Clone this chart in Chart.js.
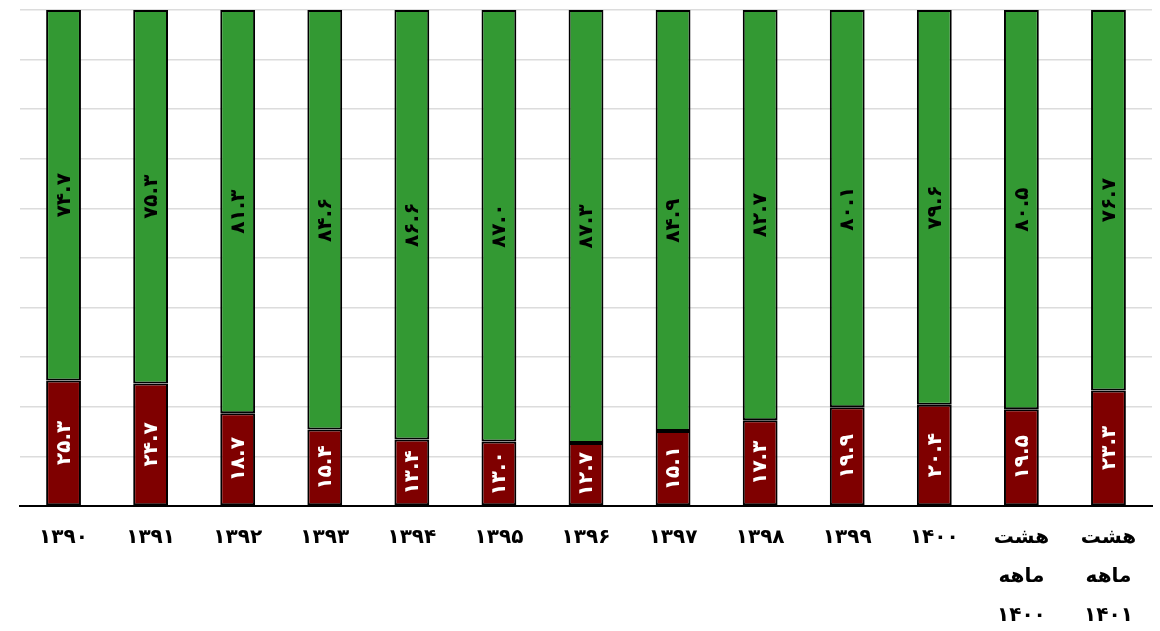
<!DOCTYPE html>
<html lang="fa">
<head>
  <meta charset="UTF-8">
  <title>سهم</title>
  <style>
    body { margin: 0; background: #fff; }
    #wrap { width: 1160px; height: 631px; }
  </style>
</head>
<body>
  <div id="wrap"><canvas id="nemudar" width="1160" height="631"></canvas></div>

  <script src="https://cdn.jsdelivr.net/npm/chart.js"></script>
  <script>
    const salha = [
      '۱۳۹۰', '۱۳۹۱', '۱۳۹۲', '۱۳۹۳', '۱۳۹۴', '۱۳۹۵', '۱۳۹۶',
      '۱۳۹۷', '۱۳۹۸', '۱۳۹۹', '۱۴۰۰',
      ['هشت', 'ماهه', '۱۴۰۰'], ['هشت', 'ماهه', '۱۴۰۱']
    ];
    const sahmGhermez = [25.3, 24.7, 18.7, 15.4, 13.4, 13.0, 12.7, 15.1, 17.3, 19.9, 20.4, 19.5, 23.3];
    const sahmSabz = [74.7, 75.3, 81.3, 84.6, 86.6, 87.0, 87.3, 84.9, 82.7, 80.1, 79.6, 80.5, 76.7];

    const faDigits = '۰۱۲۳۴۵۶۷۸۹';
    function farsi(v) {
      return v.toFixed(1).replace(/[0-9]/g, d => faDigits[+d]);
    }

    // labels inside each bar segment, rotated
    const barchasb = {
      id: 'barchasb',
      afterDatasetsDraw(chart) {
        const ctx = chart.ctx;
        chart.data.datasets.forEach((ds, i) => {
          const meta = chart.getDatasetMeta(i);
          meta.data.forEach((bar, j) => {
            const cy = (bar.y + bar.base) / 2;
            ctx.save();
            ctx.translate(bar.x, cy);
            ctx.rotate(-Math.PI / 2);
            ctx.font = 'bold 20px "DejaVu Sans"';
            ctx.fillStyle = ds.labelColor;
            ctx.textAlign = 'center';
            ctx.textBaseline = 'middle';
            ctx.fillText(farsi(ds.data[j]), 0, 1);
            ctx.restore();
          });
        });
      }
    };

    new Chart(document.getElementById('nemudar'), {
      type: 'bar',
      data: {
        labels: salha,
        datasets: [
          {
            data: sahmGhermez,
            backgroundColor: '#7f0000',
            borderColor: '#000',
            borderWidth: 2,
            borderSkipped: false,
            labelColor: '#fff',
            barPercentage: 0.4,
            categoryPercentage: 1
          },
          {
            data: sahmSabz,
            backgroundColor: '#339933',
            borderColor: '#000',
            borderWidth: 2,
            borderSkipped: false,
            labelColor: '#000',
            barPercentage: 0.4,
            categoryPercentage: 1
          }
        ]
      },
      options: {
        responsive: false,
        animation: false,
        layout: { padding: { left: 20, right: 8, top: 10, bottom: -8 } },
        plugins: {
          legend: { display: false },
          tooltip: { enabled: false }
        },
        scales: {
          x: {
            stacked: true,
            grid: { display: false },
            border: { color: '#000', width: 2 },
            ticks: {
              color: '#000',
              font: { family: '"DejaVu Sans"', size: 20, weight: 'bold', lineHeight: 1.95 },
              maxRotation: 0,
              padding: 4
            }
          },
          y: {
            stacked: true,
            min: 0,
            max: 100,
            ticks: { display: false, stepSize: 10 },
            grid: { color: '#dcdcdc', lineWidth: 1.5, drawTicks: false },
            border: { display: false }
          }
        }
      },
      plugins: [barchasb]
    });
  </script>
</body>
</html>
